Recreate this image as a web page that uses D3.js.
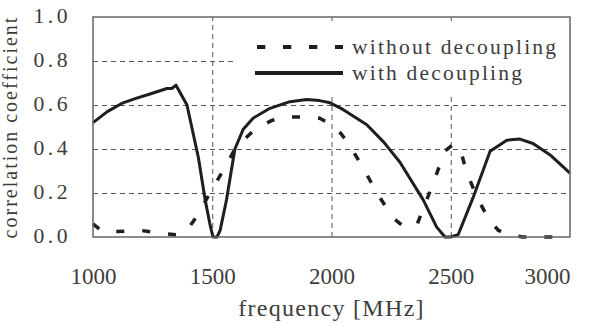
<!DOCTYPE html>
<html>
<head>
<meta charset="utf-8">
<script src="https://cdn.jsdelivr.net/npm/d3@7"></script>
<style>
  html, body { margin: 0; padding: 0; background: #fff; }
  svg { display: block; }
</style>
</head>
<body>
<svg id="chart" width="595" height="335"></svg>
<script>
// ---- data ----
const xTicks = [1000, 1500, 2000, 2500, 3000];
const yTicks = [0.0, 0.2, 0.4, 0.6, 0.8, 1.0];
const seriesNames = ["without decoupling", "with decoupling"];

const withoutFreq = [1000, 1040, 1100, 1200, 1300, 1350, 1400, 1430, 1460, 1490, 1550, 1600, 1680, 1750, 1800, 1900, 1950, 2000, 2040, 2080, 2140, 2190, 2260, 2300, 2340, 2360, 2400, 2435, 2475, 2510, 2540, 2565, 2610, 2660, 2700, 2750, 2800, 3000];
const withoutVal  = [0.06, 0.025, 0.025, 0.03, 0.015, 0.01, 0.04, 0.085, 0.14, 0.2, 0.31, 0.41, 0.49, 0.53, 0.545, 0.545, 0.54, 0.51, 0.47, 0.41, 0.30, 0.2, 0.085, 0.05, 0.045, 0.06, 0.17, 0.27, 0.39, 0.42, 0.40, 0.30, 0.18, 0.08, 0.03, 0.01, 0.0, 0.0];

const withFreq = [1000, 1060, 1126, 1180, 1239, 1310, 1330, 1348, 1394, 1442, 1470, 1490, 1503, 1520, 1533, 1560, 1595, 1630, 1671, 1742, 1826, 1896, 1950, 1994, 2048, 2148, 2220, 2287, 2384, 2441, 2476, 2500, 2531, 2594, 2665, 2735, 2790, 2845, 2920, 3000];
const withVal  = [0.52, 0.57, 0.61, 0.63, 0.65, 0.675, 0.675, 0.69, 0.60, 0.36, 0.17, 0.06, 0.0, 0.0, 0.03, 0.17, 0.40, 0.49, 0.54, 0.585, 0.615, 0.625, 0.62, 0.61, 0.58, 0.51, 0.43, 0.34, 0.17, 0.045, 0.0, 0.0, 0.01, 0.18, 0.39, 0.44, 0.445, 0.425, 0.37, 0.29];

// ---- layout ----
const FONT = '"Liberation Serif", "Times New Roman", serif';
const TXT = "#3d3d3d";
const svg = d3.select("#chart");
const margin = { left: 93, top: 17, right: 25, bottom: 98 };
const W = 595, H = 335;
const iw = W - margin.left - margin.right;   // 477
const ih = H - margin.top - margin.bottom;   // 220

const x = d3.scaleLinear().domain([1000, 3000]).range([0, iw]);
const y = d3.scaleLinear().domain([0, 1]).range([ih, 0]);

const g = svg.append("g").attr("transform", `translate(${margin.left},${margin.top})`);

// gridlines
const gx = g.append("g")
  .attr("transform", `translate(0,${ih})`)
  .call(d3.axisBottom(x).tickValues(xTicks.slice(1, -1)).tickSize(-ih).tickFormat(""));
const gy = g.append("g")
  .call(d3.axisLeft(y).tickValues(yTicks.slice(1, -1)).tickSize(-iw).tickFormat(""));
[gx, gy].forEach(s => {
  s.select(".domain").remove();
  s.selectAll("line").attr("stroke", "#555").attr("stroke-width", 1).attr("stroke-dasharray", "5,4");
});

// lines
const pts = (fs, vs) => fs.map((f, i) => [f, vs[i]]);
const line = d3.line().x(d => x(d[0])).y(d => y(d[1]));

g.append("path").datum(pts(withoutFreq, withoutVal))
  .attr("d", line).attr("fill", "none").attr("stroke", "#1e1e1e")
  .attr("stroke-width", 3.5).attr("stroke-dasharray", "8,18");

g.append("path").datum(pts(withFreq, withVal))
  .attr("d", line).attr("fill", "none").attr("stroke", "#1e1e1e")
  .attr("stroke-width", 3).attr("stroke-linejoin", "round");

// legend box
const lg = g.append("g");
lg.append("rect").attr("x", 237 - margin.left).attr("y", 24 - margin.top)
  .attr("width", iw - (237 - margin.left)).attr("height", 70).attr("fill", "#fff");
const legY = [47, 73];
seriesNames.forEach((name, i) => {
  lg.append("line")
    .attr("x1", (i === 0 ? 257 : 255) - margin.left).attr("x2", 343 - margin.left)
    .attr("y1", legY[i] - margin.top).attr("y2", legY[i] - margin.top)
    .attr("stroke", "#1e1e1e").attr("stroke-width", 4)
    .attr("stroke-dasharray", i === 0 ? "8.3,17.7" : null);
  lg.append("text").attr("x", 352 - margin.left).attr("y", legY[i] + 7 - margin.top)
    .attr("font-size", 21.5).attr("letter-spacing", 2.2)
    .attr("fill", TXT).style("font-family", FONT).text(name);
});

// frame
g.append("rect").attr("x", 0).attr("y", 0).attr("width", iw).attr("height", ih)
  .attr("fill", "none").attr("stroke", "#666").attr("stroke-width", 1.5);

// axes labels
const ax = g.append("g").attr("transform", `translate(0,${ih})`)
  .call(d3.axisBottom(x).tickValues(xTicks).tickSize(0).tickPadding(0).tickFormat(d3.format("d")));
ax.select(".domain").remove();
ax.selectAll("text").attr("font-size", 23).attr("y", 47).attr("dy", 0)
  .attr("fill", TXT).style("font-family", FONT);
ax.selectAll(".tick").filter(d => d === 3000).select("text").attr("text-anchor", "end");

const ay = g.append("g")
  .call(d3.axisLeft(y).tickValues(yTicks).tickSize(0).tickPadding(0).tickFormat(d3.format(".1f")));
ay.select(".domain").remove();
ay.selectAll("text").attr("font-size", 21.7).attr("letter-spacing", 3.5)
  .attr("x", -22).attr("dy", "0.26em")
  .attr("fill", TXT).style("font-family", FONT);

svg.append("text").attr("x", margin.left + iw / 2).attr("y", 316)
  .attr("text-anchor", "middle").attr("font-size", 24).attr("letter-spacing", 1.3)
  .attr("fill", TXT).style("font-family", FONT)
  .text("frequency [MHz]");

svg.append("text").attr("transform", `translate(17,${margin.top + ih / 2}) rotate(-90)`)
  .attr("text-anchor", "middle").attr("font-size", 20).attr("letter-spacing", 2)
  .attr("fill", TXT).style("font-family", FONT)
  .text("correlation coefficient");
</script>
</body>
</html>
